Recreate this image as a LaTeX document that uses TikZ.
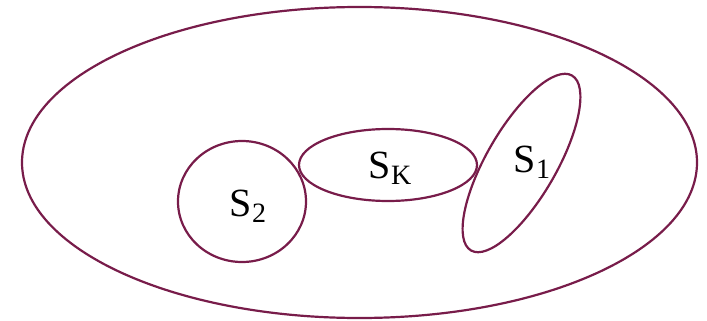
\documentclass[tikz,border=0pt]{standalone}
\usepackage{fontspec}
\setmainfont{Liberation Serif}
\definecolor{setline}{RGB}{120,28,74}
\tikzset{
  setcurve/.style={draw=setline, line width=2.2pt},
  setlabel/.style={anchor=base, inner sep=0pt, text=black}
}
\newcommand{\setname}[2]{{\fontsize{40}{40}\selectfont S}\raisebox{-6pt}{\fontsize{28}{28}\selectfont #2}}
\begin{document}
\begin{tikzpicture}[x=1pt,y=-1pt]
\useasboundingbox (0,0) rectangle (707,321);
% universe
\draw[setcurve] (359.5,162.5) ellipse [x radius=337.5, y radius=155.5];
% S2
\draw[setcurve] (242,201.5) ellipse [x radius=64, y radius=60.5];
% SK
\draw[setcurve] (388,165) ellipse [x radius=89, y radius=36];
% S1
\draw[setcurve, rotate around={60:(521.5,163)}] (521.5,163) ellipse [x radius=101, y radius=35];
% labels
\node[setlabel] (lk) at (390,178) {\setname{S}{K}};
\node[setlabel] (l2) at (248,216) {\setname{S}{2}};
\node[setlabel] (l1) at (532,172) {\setname{S}{1}};
\end{tikzpicture}
\end{document}
